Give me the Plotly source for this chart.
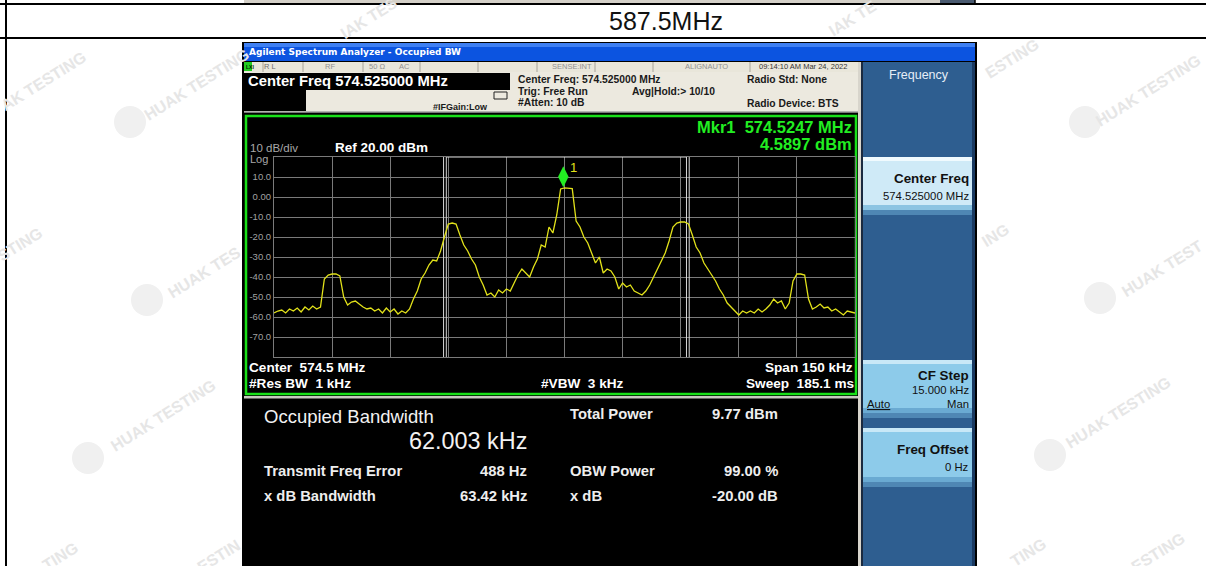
import plotly.graph_objects as go

W, H = 1206, 566
FONT = "Arial, Liberation Sans, sans-serif"

# ---------------- data ----------------
ROW_TITLE = "587.5MHz"
CENTER_MHZ = 574.525
SPAN_KHZ = 150
FREQ_OFFSET_KHZ = list(range(-75, 76))          # sweep points, offset from center
LEVEL_DBM = [
    -58, -57, -56.5, -58, -56, -57, -55.5, -57.5, -55, -56.5,      # -75..-66
    -54.5, -56, -55, -41, -39, -38.5, -38.5, -39.5, -50, -54,       # -65..-56
    -52.5, -52, -53.5, -55, -56, -55.5, -57, -56, -58, -55.5,       # -55..-46
    -57.5, -56, -58.5, -57, -58, -56, -51, -47, -41, -38,           # -45..-36
    -34, -31.5, -32, -27, -20, -13.5, -13, -13.5, -19, -24,         # -35..-26
    -27, -31, -34, -40, -44, -49, -48, -50, -46.5, -48,             # -25..-16
    -46, -47, -43, -39, -36, -38, -40, -35, -31, -24,               # -15..-6
    -25, -15, -18, -9, 4.0, 4.6, 4.5, 4.2, -12, -15,                # -5..4
    -20, -23, -28, -33, -30, -38, -36, -37, -40, -46,               # 5..14
    -43, -45, -44, -47, -48, -49, -47, -44, -40, -36,               # 15..24
    -32, -28, -22, -15, -13, -12.5, -12.5, -13.5, -19, -25,         # 25..34
    -28, -33, -36, -39, -42, -46, -49, -53, -55, -57,               # 35..44
    -59, -57, -58, -57, -58, -56, -57.5, -56, -54, -51,             # 45..54
    -53, -52, -56, -53, -42, -38.5, -38.5, -39, -51, -56,           # 55..64
    -55, -53.5, -55.5, -55, -57, -56, -57.5, -59, -57, -57.5,       # 65..74
    -58,                                                            # 75
]
MKR_OFFSET_KHZ = -0.3
MKR_LEVEL_DBM = 4.5897
REF_DBM = 20
DB_PER_DIV = 10
Y_TICKS = [10, 0, -10, -20, -30, -40, -50, -60, -70]
Y_TICK_TEXT = ["10.0", "0.00", "-10.0", "-20.0", "-30.0", "-40.0", "-50.0", "-60.0", "-70.0"]
FREQ_ERR_KHZ = 0.488
OBW_KHZ = 62.003
XDB_BW_KHZ = 63.42

# ---------------- helpers ----------------
shapes, ann = [], []


def R(x0, y0, x1, y1, fill, line="rgba(0,0,0,0)", lw=0, layer="below"):
    shapes.append(dict(type="rect", xref="paper", yref="paper",
                       x0=x0 / W, x1=x1 / W, y0=1 - y1 / H, y1=1 - y0 / H,
                       fillcolor=fill, line=dict(color=line, width=lw), layer=layer))


def L(x0, y0, x1, y1, color, lw=1, layer="below"):
    shapes.append(dict(type="line", xref="paper", yref="paper",
                       x0=x0 / W, x1=x1 / W, y0=1 - y0 / H, y1=1 - y1 / H,
                       line=dict(color=color, width=lw), layer=layer))


def C(cx, cy, r, fill):
    shapes.append(dict(type="circle", xref="paper", yref="paper",
                       x0=(cx - r) / W, x1=(cx + r) / W, y0=1 - (cy + r) / H, y1=1 - (cy - r) / H,
                       fillcolor=fill, line=dict(color="rgba(0,0,0,0)", width=0), layer="below"))


def T(x, y, s, size, color, anchor="left", bold=False, angle=0, family=FONT):
    if bold:
        s = "<b>" + s + "</b>"
    ann.append(dict(x=x / W, y=1 - y / H, xref="paper", yref="paper", text=s,
                    showarrow=False, xanchor=anchor, yanchor="middle", textangle=angle,
                    font=dict(size=size, color=color, family=family), borderpad=0))


# ---------------- page / table ----------------
R(244, 0, 940, 3, "#d4d0c8")
R(940, 0, 975, 3, "#4a5a70")
L(0, 4, W, 4, "black", 2)
L(0, 38, W, 38, "black", 2)
L(6, 0, 6, H, "black", 2)
L(975, 0, 975, 4, "black", 1.5)
T(608, 21, ROW_TITLE, 25, "#111111")

# watermarks
WM_COLOR = "#e6e6e6"
LOGO_COLOR = "#f0f0f0"
WATERMARKS = [
    ("AK TESTING", 43, 81), ("HUAK TESTING", 197, 85), ("STING", 20, 245),
    ("HUAK TES", 204, 272), ("HUAK TESTING", 163, 415), ("TING", 60, 556),
    ("ESTIN", 218, 556), ("ESTING", 1012, 58), ("HUAK TESTING", 1148, 90),
    ("ING", 995, 235), ("HUAK TEST", 1162, 268), ("HUAK TESTING", 1118, 412),
    ("TING", 1028, 552), ("ESTING", 1158, 552), ("IAK TES", 368, 18), ("IAK TE", 852, 18),
]
LOGOS = [(130, 122), (147, 300), (88, 458), (1085, 122), (1100, 298), (1050, 455)]
for cx, cy in LOGOS:
    C(cx, cy, 16, LOGO_COLOR)

# ---------------- analyzer screenshot ----------------
R(242, 42, 977, H, "#000000")
# title bar
R(244, 43, 975, 61, "#0c54e0")
R(244, 43, 975, 47, "#3f80f2")
T(248, 52, "Agilent Spectrum Analyzer - Occupied BW", 9, "white", bold=True, family="Tahoma, DejaVu Sans, sans-serif")
# status row
R(244, 62, 858, 72, "#e9e6da")
for sx in [263, 303, 363, 420, 478, 537, 595, 653, 750]:
    L(sx, 62, sx, 72, "#a8a49a", 1)
R(244, 62, 252, 71, "#22cc22")
T(245, 67, "LXI", 5, "#002200", bold=True)
T(263, 67, "R L", 7.5, "#707070")
T(324, 67, "RF", 7.5, "#909090")
T(368, 67, "50 Ω", 7.5, "#909090")
T(398, 67, "AC", 7.5, "#909090")
T(572, 67, "SENSE:INT", 7.5, "#909090", anchor="center")
T(706, 67, "ALIGNAUTO", 7.5, "#909090", anchor="center")
T(803, 67, "09:14:10 AM Mar 24, 2022", 7.5, "#333333", anchor="center")
# header
R(244, 72, 858, 112, "#ece9df")
R(244, 73, 510, 90, "#000000")
R(244, 90, 306, 111, "#000000")
T(247, 81, "Center Freq 574.525000 MHz", 14.8, "white", bold=True)
T(432, 107, "#IFGain:Low", 9, "#1a1a1a", bold=True)
R(494, 92, 507, 99, "rgba(0,0,0,0)", "#222222", 1)
T(517, 79, "Center Freq: 574.525000 MHz", 10.3, "#1a1a1a", bold=True)
T(517, 91, "Trig: Free Run", 10.3, "#1a1a1a", bold=True)
T(631, 91, "Avg|Hold:> 10/10", 10.3, "#1a1a1a", bold=True)
T(517, 103, "#Atten: 10 dB", 10.3, "#1a1a1a", bold=True)
T(746, 79, "Radio Std: None", 10.3, "#1a1a1a", bold=True)
T(746, 104, "Radio Device: BTS", 10.3, "#1a1a1a", bold=True)
L(244, 112, 858, 112, "#a0a0a0", 1.5)
# plot frame
R(244, 113, 858, 396, "#000000")
R(246, 116, 856, 394, "rgba(0,0,0,0)", "#19e019", 2.5)
R(244, 396, 858, 398.5, "#c8c8c0")
T(853, 127, "Mkr1  574.5247 MHz", 16.5, "#22ee22", anchor="right", bold=True)
T(853, 144, "4.5897 dBm", 16.5, "#22ee22", anchor="right", bold=True)
T(249, 148, "10 dB/div", 11.5, "#a8a8a8")
T(334, 147, "Ref 20.00 dBm", 13.5, "white", bold=True)
T(249, 159, "Log", 11, "#a8a8a8")
T(248, 367, "Center  574.5 MHz", 13.6, "white", bold=True)
T(248, 383, "#Res BW  1 kHz", 13.6, "white", bold=True)
T(540, 383, "#VBW  3 kHz", 13.6, "white", bold=True)
T(854, 367, "Span 150 kHz", 13.6, "white", anchor="right", bold=True)
T(855, 383, "Sweep  185.1 ms", 13.6, "white", anchor="right", bold=True)
# results panel
R(244, 399, 858, H, "#000000")
T(263, 416, "Occupied Bandwidth", 18.5, "#f2f2f2")
T(528, 441, "62.003 kHz", 23.4, "#f2f2f2", anchor="right")
T(569, 414, "Total Power", 14.8, "#eeeeee", bold=True)
T(779, 414, "9.77 dBm", 14.8, "#eeeeee", anchor="right", bold=True)
T(263, 471, "Transmit Freq Error", 14.8, "#eeeeee", bold=True)
T(528, 471, "488 Hz", 14.8, "#eeeeee", anchor="right", bold=True)
T(569, 471, "OBW Power", 14.8, "#eeeeee", bold=True)
T(779, 471, "99.00 %", 14.8, "#eeeeee", anchor="right", bold=True)
T(263, 496, "x dB Bandwidth", 14.8, "#eeeeee", bold=True)
T(528, 496, "63.42 kHz", 14.8, "#eeeeee", anchor="right", bold=True)
T(569, 496, "x dB", 14.8, "#eeeeee", bold=True)
T(779, 496, "-20.00 dB", 14.8, "#eeeeee", anchor="right", bold=True)
# softkey panel
R(858, 62, 862, H, "#d8d5cc")
R(861, 62, 863, H, "#1a2a40")
R(863, 62, 972, H, "#2e5e90")
R(972, 62, 975, H, "#1a3a62")
T(919, 75, "Frequency", 12.5, "#e6eef8", anchor="center")


def softkey(y0, y1, body, top, bottom):
    R(863, y0, 972, y1, body)
    R(863, y0, 972, y0 + 4, top)
    R(863, y1 - 10, 972, y1 - 5, bottom)
    R(863, y1 - 5, 972, y1, "#4f87b4")


softkey(157, 215, "#cfeaf7", "#f0fafe", "#8cc4e2")
T(970, 178, "Center Freq", 13.4, "#111111", anchor="right", bold=True)
T(970, 196, "574.525000 MHz", 11.3, "#111111", anchor="right")
softkey(360, 418, "#8dcbea", "#c8e8f7", "#6aaad2")
T(970, 375, "CF Step", 13.4, "#111111", anchor="right", bold=True)
T(970, 390, "15.000 kHz", 11.3, "#111111", anchor="right")
T(866, 404, "<u>Auto</u>", 11.3, "#111111")
T(970, 404, "Man", 11.3, "#111111", anchor="right")
softkey(428, 487, "#8dcbea", "#c8e8f7", "#6aaad2")
T(970, 449, "Freq Offset", 13.4, "#111111", anchor="right", bold=True)
T(970, 467, "0 Hz", 11.3, "#111111", anchor="right")

# watermark texts
for s, x, y in WATERMARKS:
    T(x, y, s, 16, WM_COLOR, anchor="center", bold=True, angle=-32)

# OBW / x dB markers (data coordinates)
obw_edges = [FREQ_ERR_KHZ - OBW_KHZ / 2, FREQ_ERR_KHZ + OBW_KHZ / 2]
xdb_edges = [FREQ_ERR_KHZ - XDB_BW_KHZ / 2, FREQ_ERR_KHZ + XDB_BW_KHZ / 2]
y_bot = REF_DBM - 10 * DB_PER_DIV
for e in obw_edges + xdb_edges:
    shapes.append(dict(type="line", xref="x", yref="y", x0=e, x1=e, y0=y_bot, y1=REF_DBM + 1,
                       line=dict(color="#d8d8d8", width=1), layer="between"))
shapes.append(dict(type="line", xref="x", yref="y", x0=obw_edges[0], x1=obw_edges[1],
                   y0=REF_DBM, y1=REF_DBM, line=dict(color="#e0e0e0", width=1.2), layer="between"))

# marker label "1"
ann.append(dict(x=MKR_OFFSET_KHZ, y=MKR_LEVEL_DBM + 5.5, xref="x", yref="y", text="1",
                showarrow=False, xanchor="left", yanchor="middle", xshift=5, yshift=9,
                font=dict(size=13, color="#e2e21a", family=FONT)))

# ---------------- traces ----------------
fig = go.Figure()
fig.add_trace(go.Scatter(x=FREQ_OFFSET_KHZ, y=LEVEL_DBM, mode="lines",
                         line=dict(color="#e2e21a", width=1.3), hoverinfo="skip"))
fig.add_trace(go.Scatter(x=[MKR_OFFSET_KHZ], y=[MKR_LEVEL_DBM + 5.5], mode="markers",
                         marker=dict(symbol="diamond-tall", size=15, color="#22ee22"),
                         hoverinfo="skip"))

grid = "#7a7a7a"
fig.update_layout(
    width=W, height=H, margin=dict(l=0, r=0, t=0, b=0),
    paper_bgcolor="white", plot_bgcolor="rgba(0,0,0,0)",
    showlegend=False, shapes=shapes, annotations=ann,
    xaxis=dict(domain=[274 / W, 855 / W], range=[-SPAN_KHZ / 2, SPAN_KHZ / 2],
               tick0=-SPAN_KHZ / 2, dtick=SPAN_KHZ / 10, showgrid=True, gridcolor=grid, gridwidth=1,
               showticklabels=False, zeroline=False, showline=True, linecolor=grid, mirror=True,
               ticks="", fixedrange=True, automargin=False),
    yaxis=dict(domain=[1 - 357 / H, 1 - 157 / H], range=[REF_DBM - 10 * DB_PER_DIV, REF_DBM],
               tickmode="array", tickvals=Y_TICKS, ticktext=Y_TICK_TEXT,
               showgrid=True, gridcolor=grid, gridwidth=1, zeroline=False,
               showline=True, linecolor=grid, mirror=True, ticks="",
               tickfont=dict(size=9.5, color="#a0a0a0", family=FONT),
               fixedrange=True, automargin=False),
)
fig.write_html("out.html", config={"displayModeBar": False},
               post_script="document.body.style.margin='0px';document.body.style.overflow='hidden';")
